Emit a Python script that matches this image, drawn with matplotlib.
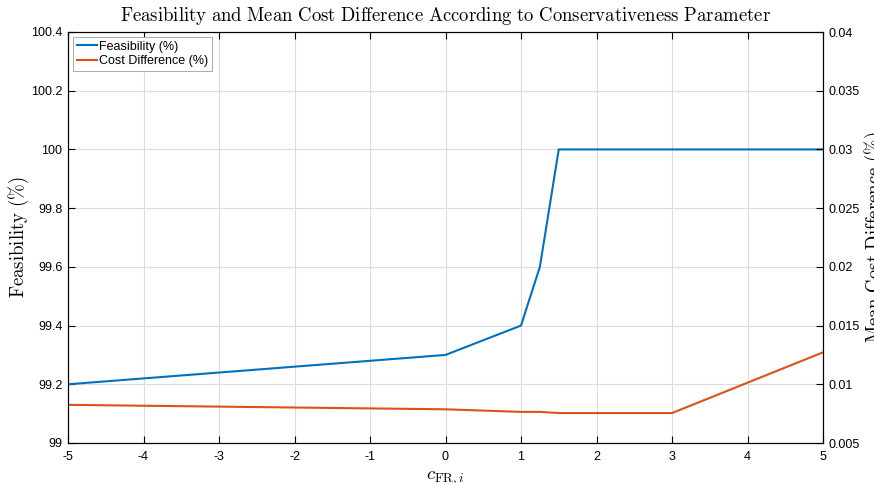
import numpy as np
import matplotlib
matplotlib.use("Agg")
import matplotlib.pyplot as plt
from matplotlib.ticker import FuncFormatter

plt.rcParams['font.family'] = ['Liberation Sans', 'DejaVu Sans']
plt.rcParams['mathtext.fontset'] = 'cm'
plt.rcParams['axes.unicode_minus'] = False

# -------------------------------------------------------------------
# Data
# -------------------------------------------------------------------
c_fr = [-5, 0, 1, 1.25, 1.5, 3, 5]
feasibility = [99.2, 99.3, 99.4, 99.6, 100.0, 100.0, 100.0]
cost_diff = [0.00825, 0.00787, 0.00765, 0.00765, 0.00755, 0.00755, 0.01272]

x_ticks = [-5, -4, -3, -2, -1, 0, 1, 2, 3, 4, 5]
left_ticks = [99, 99.2, 99.4, 99.6, 99.8, 100, 100.2, 100.4]
right_ticks = [0.005, 0.01, 0.015, 0.02, 0.025, 0.03, 0.035, 0.04]

blue = '#0072BD'
orange = '#D95319'

# -------------------------------------------------------------------
# Plot
# -------------------------------------------------------------------
fig = plt.figure(figsize=(8.74, 4.83), dpi=100)
ax = fig.add_axes([68 / 874, 40 / 483, 755 / 874, 411 / 483])
ax2 = ax.twinx()

l1, = ax.plot(c_fr, feasibility, color=blue, lw=1.5, label='Feasibility (%)')
l2, = ax2.plot(c_fr, cost_diff, color=orange, lw=1.5, label='Cost Difference (%)')

ax.set_xlim(-5, 5)
ax.set_ylim(99, 100.4)
ax2.set_ylim(0.005, 0.04)
ax.set_xticks(x_ticks)
ax.set_yticks(left_ticks)
ax2.set_yticks(right_ticks)
fmt = FuncFormatter(lambda v, p: f"{v:g}")
ax.yaxis.set_major_formatter(fmt)
ax2.yaxis.set_major_formatter(fmt)
ax.xaxis.set_major_formatter(fmt)

ax.grid(True, color='#dcdcdc', lw=0.8)
ax.set_axisbelow(True)

for a in (ax, ax2):
    a.tick_params(direction='in', length=5, width=0.8, labelsize=9, colors='black', pad=4)
    for s in a.spines.values():
        s.set_linewidth(0.8)
ax.tick_params(axis='x', top=True, pad=6)

ax.set_title(r'$\mathrm{Feasibility\ and\ Mean\ Cost\ Difference\ According\ to\ Conservativeness\ Parameter}$',
             fontsize=13.5, pad=8)
ax.set_ylabel(r'$\mathrm{Feasibility\ (\%)}$', fontsize=13.5, labelpad=0)
ax2.set_ylabel(r'$\mathrm{Mean\ Cost\ Difference\ (\%)}$', fontsize=13.5, labelpad=2)
ax.set_xlabel(r'$c_{\mathrm{FR},i}$', fontsize=13.5, labelpad=4)

leg = ax.legend(handles=[l1, l2], loc='upper left', fontsize=9, frameon=True, fancybox=False,
                edgecolor='#a0a0a0', framealpha=1, handlelength=1.6, handletextpad=0.2,
                borderpad=0.3, labelspacing=0.2, borderaxespad=0.4)
leg.get_frame().set_linewidth(0.6)

fig.savefig('out.png', dpi=100)
